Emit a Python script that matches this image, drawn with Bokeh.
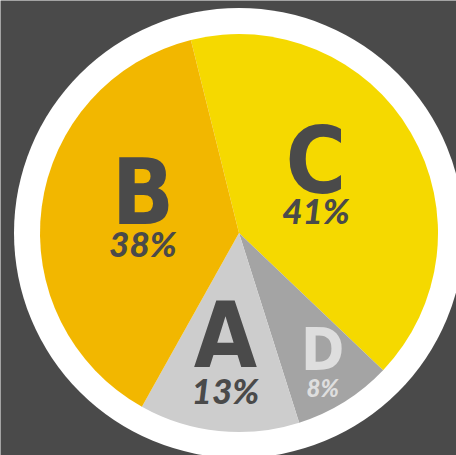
import math
from bokeh.plotting import figure
from bokeh.models import ColumnDataSource
from bokeh.core.properties import value
from bokeh.embed import file_html
from bokeh.resources import INLINE

# Data (clockwise order starting at the top)
categories = ["C", "D", "A", "B"]
shares = [41, 8, 13, 38]
pct_labels = ["41%", "8%", "13%", "38%"]

# Style / layout
slice_colors = ["#f5d900", "#a4a4a4", "#cdcdcd", "#f2b700"]
text_colors = ["#4a4a4a", "#dedede", "#4a4a4a", "#4a4a4a"]
letter_sizes = ["92px", "58px", "91px", "91px"]
pct_sizes = ["35px", "24px", "35px", "35px"]
letter_offsets = [-27, -17, -32, -28]
pct_offsets = [22, 21, 23, 23]
label_dist = [89, 158, 135, 97]
start_deg = 104.0
R_PIE = 199
R_RING = 225
BG = "#4a4a4a"

total = float(sum(shares))
starts, ends, lx, ly = [], [], [], []
a = start_deg
for s, d in zip(shares, label_dist):
    span = s / total * 360.0
    st, en = a, a - span
    starts.append(math.radians(st))
    ends.append(math.radians(en))
    mid = math.radians((st + en) / 2)
    lx.append(d * math.cos(mid))
    ly.append(d * math.sin(mid))
    a = en

src = ColumnDataSource(dict(
    cat=categories, pct=pct_labels, start=starts, end=ends,
    color=slice_colors, tcolor=text_colors, lsize=letter_sizes,
    psize=pct_sizes, loff=letter_offsets, poff=pct_offsets, x=lx, y=ly,
))

W, H = 456, 455
cx_px, cy_px = 238.5, 232.5
p = figure(width=W, height=H, x_range=(-cx_px, W - cx_px),
           y_range=(-(H - cy_px), cy_px), output_backend="svg",
           toolbar_location=None, min_border=0, match_aspect=False)
p.axis.visible = False
p.grid.visible = False
p.outline_line_color = None
p.background_fill_color = BG
p.border_fill_color = BG

p.circle(x=0, y=0, radius=R_RING, fill_color="white", line_color=None)
p.wedge(x=0, y=0, radius=R_PIE, start_angle="end", end_angle="start",
        direction="anticlock", fill_color="color", line_color=None, source=src)

p.text(x="x", y="y", text="cat", text_color="tcolor", text_font_size="lsize",
       text_font=value("'Liberation Sans Narrow', 'DejaVu Sans Condensed', 'Roboto Condensed', sans-serif"),
       text_font_style="bold", text_align="center", text_baseline="alphabetic",
       y_offset="loff", source=src)
p.text(x="x", y="y", text="pct", text_color="tcolor", text_font_size="psize",
       text_font=value("'Lato Black', Lato"), text_font_style="bold italic",
       text_align="center", text_baseline="alphabetic", y_offset="poff",
       source=src)

open("out.html", "w").write(file_html(p, INLINE))
